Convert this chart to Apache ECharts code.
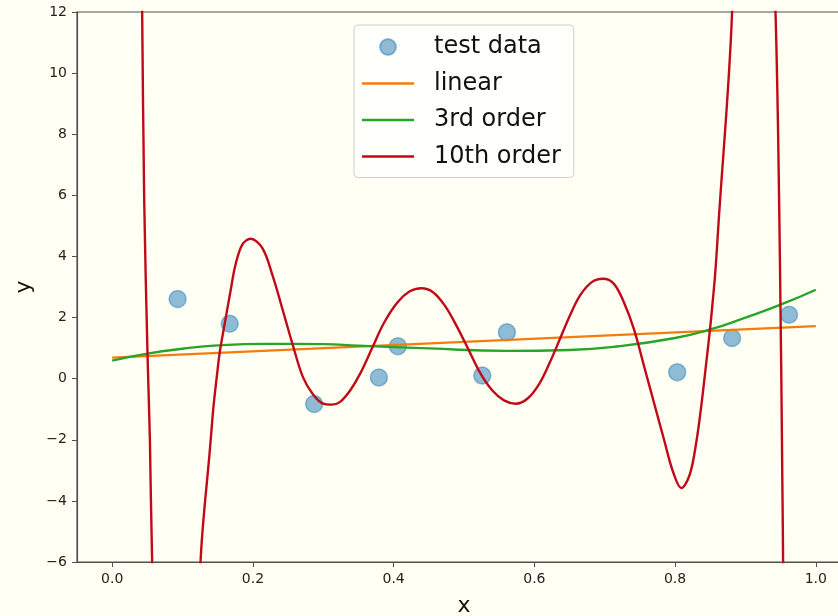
<!DOCTYPE html>
<html>
<head>
<meta charset="utf-8">
<script src="https://cdn.jsdelivr.net/npm/echarts@6/dist/echarts.min.js"></script>
<style>html,body{margin:0;padding:0;background:#fffff4;}#c{width:838px;height:616px;}</style>
</head>
<body>
<div id="c"></div>
<script>
// test data
const testX = [0.093, 0.167, 0.287, 0.379, 0.406, 0.526, 0.561, 0.803, 0.881, 0.962];
const testY = [2.61, 1.80, -0.83, 0.04, 1.06, 0.10, 1.52, 0.21, 1.33, 2.09];
// linear fit
const linX = [0.0, 1.0];
const linY = [0.69, 1.72];
// 3rd order fit
const cubX = [0.0, 0.05, 0.10, 0.15, 0.22, 0.30, 0.35, 0.45, 0.56, 0.65, 0.72, 0.80, 0.85, 0.90, 0.95, 1.0];
const cubY = [0.59, 0.82, 0.98, 1.09, 1.14, 1.13, 1.08, 0.99, 0.91, 0.94, 1.06, 1.33, 1.61, 2.00, 2.42, 2.91];
// 10th order fit (values outside the axis range are off-screen)
const tenX = [0.036, 0.0426, 0.0455, 0.0503, 0.0536, 0.0568, 0.075, 0.095, 0.115, 0.1256, 0.1391, 0.1439, 0.1487, 0.1530, 0.1607, 0.1679, 0.1751, 0.1847, 0.1967, 0.2135, 0.2279, 0.2423, 0.2567, 0.2711, 0.2855, 0.2999, 0.3119, 0.3240, 0.3384, 0.3528, 0.3696, 0.3864, 0.4056, 0.4224, 0.4392, 0.4560, 0.4728, 0.4896, 0.5064, 0.5232, 0.5400, 0.5568, 0.5736, 0.5904, 0.6072, 0.6216, 0.6360, 0.6504, 0.6648, 0.6816, 0.6974, 0.7128, 0.7272, 0.7416, 0.7560, 0.7704, 0.7848, 0.7968, 0.8088, 0.8208, 0.8304, 0.8376, 0.8448, 0.8496, 0.8568, 0.8616, 0.881, 0.91, 0.9427, 0.9488, 0.9527, 0.9535, 0.958];
const tenY = [26, 12, 5.86, 0.73, -2.0, -6, -20, -24, -15, -6, -2.26, -0.93, 0.07, 0.88, 1.90, 2.83, 3.71, 4.38, 4.58, 4.27, 3.38, 2.25, 1.10, 0.05, -0.52, -0.82, -0.85, -0.76, -0.38, 0.18, 1.01, 1.83, 2.50, 2.85, 2.96, 2.83, 2.39, 1.72, 0.95, 0.18, -0.38, -0.71, -0.82, -0.65, -0.16, 0.51, 1.28, 2.06, 2.72, 3.16, 3.27, 3.11, 2.50, 1.61, 0.40, -0.82, -2.04, -3.03, -3.58, -3.14, -2.04, -0.82, 0.62, 1.61, 3.38, 5.04, 12, 35, 12, 4.22, -3.96, -6, -20];
// ticks
const xTicks = [0.0, 0.2, 0.4, 0.6, 0.8, 1.0];
const yMin = -6, yMax = 12, yStep = 2;

const zip = (a, b) => a.map((v, i) => [v, b[i]]);
const font = 'DejaVu Sans';
const lineIcon = 'path://M0,0H52V2.4H0Z';
const chart = echarts.init(document.getElementById('c'));
chart.setOption({
  backgroundColor: '#fffff4',
  animation: false,
  grid: { left: 77, top: 12, width: 774, height: 550, outerBoundsMode: 'none', containLabel: false,
          show: true, borderColor: '#505050', borderWidth: 1.2, backgroundColor: 'transparent' },
  xAxis: {
    type: 'value', min: -0.05, max: 1.05,
    name: 'x', nameLocation: 'middle', nameGap: 33,
    nameTextStyle: { fontFamily: font, fontSize: 22, color: '#111' },
    axisLine: { onZero: false, lineStyle: { color: '#505050', width: 1.2 } },
    axisTick: { show: true, length: 5, customValues: xTicks, lineStyle: { color: '#505050' } },
    axisLabel: { customValues: xTicks, margin: 10, fontFamily: font, fontSize: 14, color: '#222', formatter: v => v.toFixed(1) },
    splitLine: { show: false }
  },
  yAxis: {
    type: 'value', min: yMin, max: yMax, interval: yStep,
    name: 'y', nameLocation: 'middle', nameGap: 35,
    nameTextStyle: { fontFamily: font, fontSize: 22, color: '#111' },
    axisLine: { show: true, onZero: false, lineStyle: { color: '#505050', width: 1.2 } },
    axisTick: { show: true, length: 5, lineStyle: { color: '#505050' } },
    axisLabel: { margin: 10, fontFamily: font, fontSize: 14, color: '#222', formatter: v => String(v).replace('-', '\u2212') },
    splitLine: { show: false }
  },
  legend: {
    orient: 'vertical', left: 354, top: 25,
    padding: [10, 13, 9, 8], itemWidth: 52, itemHeight: 16, itemGap: 12.5,
    backgroundColor: '#fffffb', borderColor: '#cfcfcf', borderWidth: 1, borderRadius: 4,
    textStyle: { fontFamily: font, fontSize: 24, color: '#111', padding: [0, 0, 0, 15] },
    data: [
      { name: 'test data', icon: 'circle' },
      { name: 'linear', icon: lineIcon },
      { name: '3rd order', icon: lineIcon },
      { name: '10th order', icon: lineIcon }
    ]
  },
  series: [
    { name: 'test data', type: 'scatter', symbolSize: 17, data: zip(testX, testY),
      itemStyle: { color: 'rgba(31,119,180,0.5)', borderColor: 'rgba(31,119,180,0.45)', borderWidth: 1.5, opacity: 1 } },
    { name: 'linear', type: 'line', symbol: 'none', data: zip(linX, linY),
      lineStyle: { color: '#f57b0e', width: 2.4 }, itemStyle: { color: '#f57b0e' } },
    { name: '3rd order', type: 'line', symbol: 'none', smooth: true, data: zip(cubX, cubY),
      lineStyle: { color: '#26a526', width: 2.4 }, itemStyle: { color: '#26a526' } },
    { name: '10th order', type: 'line', symbol: 'none', smooth: 0.35, clip: true, data: zip(tenX, tenY),
      lineStyle: { color: '#c00a1a', width: 2.4 }, itemStyle: { color: '#c00a1a' } }
  ]
});
</script>
</body>
</html>
